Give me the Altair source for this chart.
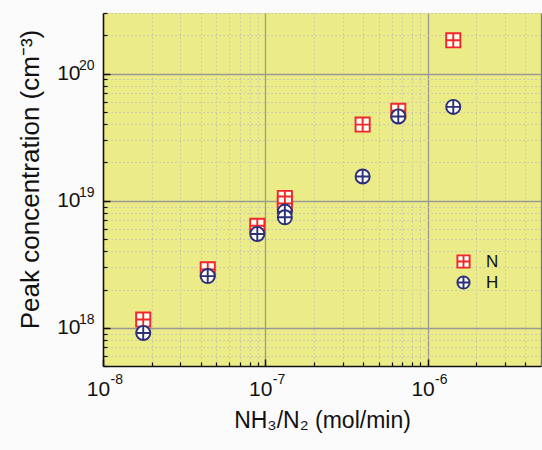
import altair as alt
import pandas as pd

# ---- data ----
x_vals = [1.77e-8, 4.42e-8, 8.93e-8, 1.32e-7, 1.32e-7, 3.98e-7, 6.6e-7, 1.44e-6]
y_N = [1.16e18, 2.88e18, 6.35e18, 1.05e19, 0.95e19, 3.97e19, 5.1e19, 1.83e20]
y_H = [9.1e17, 2.55e18, 5.47e18, 8.2e18, 7.4e18, 1.55e19, 4.6e19, 5.47e19]
series = ["N", "H"]

x_major = [1e-8, 1e-7, 1e-6]
x_minor = [m * d for d in [1e-8, 1e-7, 1e-6] for m in range(2, 10) if m * d <= 5e-6]
y_major = [1e18, 1e19, 1e20]
y_minor = [m * d for d in [1e17, 1e18, 1e19, 1e20] for m in range(2, 10) if 5e17 <= m * d <= 3e20]

rows = []
for xv, yv in zip(x_vals, y_N):
    rows.append({"x": xv, "y": yv, "s": "N"})
for xv, yv in zip(x_vals, y_H):
    rows.append({"x": xv, "y": yv, "s": "H"})
df = pd.DataFrame(rows)

FONT = "Liberation Sans"
INK = "#111111"
square_path = "M-1,-1H1V1H-1Z M0,-1V1 M-1,0H1"
circle_path = "M1,0A1,1,0,1,1,-1,0A1,1,0,1,1,1,0Z M0,-1V1 M-1,0H1"

xs = alt.Scale(type="log", domain=[1e-8, 5e-6], nice=False)
ys = alt.Scale(type="log", domain=[5e17, 3e20], nice=False)

x_exp = "'-' + format(-round(log(datum.value) / LN10), 'd')"
y_exp = "format(round(log(datum.value) / LN10), 'd')"


def axis_layer(xaxis, yaxis):
    return alt.Chart(df).mark_point(opacity=0).encode(
        x=alt.X("x:Q", scale=xs, axis=xaxis),
        y=alt.Y("y:Q", scale=ys, axis=yaxis),
    )


def grid_axis(orient, values, color, width, dash=None):
    kw = dict(orient=orient, values=values, labels=False, domain=False, ticks=False,
              grid=True, gridColor=color, gridWidth=width, title=None)
    if dash:
        kw["gridDash"] = dash
    return alt.Axis(**kw)


def tick_axis(orient, values, size, width):
    return alt.Axis(orient=orient, values=values, labels=False, domain=False, ticks=True,
                    tickSize=size, tickWidth=width, tickColor=INK, offset=-size,
                    grid=False, title=None)


minor_grid = axis_layer(grid_axis("bottom", x_minor, "#c4c4a6", 1, [1.5, 2.5]),
                        grid_axis("left", y_minor, "#c4c4a6", 1, [1.5, 2.5]))
major_grid = axis_layer(grid_axis("bottom", x_major, "#9a9a92", 1.3),
                        grid_axis("left", y_major, "#9a9a92", 1.3))
major_ticks = axis_layer(tick_axis("bottom", x_major, 7, 1.5), tick_axis("left", y_major, 7, 1.5))
minor_ticks = axis_layer(tick_axis("bottom", x_minor, 4, 1.2), tick_axis("left", y_minor, 4, 1.2))
right_border = axis_layer(
    alt.Axis(orient="top", labels=False, domain=False, ticks=False, grid=False, title=None),
    alt.Axis(orient="right", labels=False, domain=True, domainColor="#777", domainWidth=1.2,
             ticks=False, grid=False, title=None),
)
exponents = axis_layer(
    alt.Axis(orient="bottom", values=x_major, labelExpr=x_exp, labels=True, domain=False,
             ticks=False, tickSize=0, grid=False, title=None, labelFont=FONT, labelFontSize=14,
             labelColor=INK, labelAlign="left", labelBaseline="top", labelOffset=7,
             labelPadding=6),
    alt.Axis(orient="left", values=y_major, labelExpr=y_exp, labels=True, domain=False,
             ticks=False, tickSize=0, grid=False, title=None, labelFont=FONT, labelFontSize=14,
             labelColor=INK, labelAlign="right", labelBaseline="middle", labelOffset=-8,
             labelPadding=9),
)

points = alt.Chart(df).mark_point(filled=False, fill="#fffff4", strokeWidth=1.9, opacity=1).encode(
    x=alt.X("x:Q", scale=xs, axis=alt.Axis(
        orient="bottom", values=x_major, labelExpr="'10'", grid=False, ticks=False, tickSize=0,
        domain=True, domainColor=INK, domainWidth=1.5, labelFont=FONT, labelFontSize=21,
        labelColor=INK, labelAlign="center", labelBaseline="top", labelOffset=-5,
        labelPadding=12, title="NH\u2083/N\u2082 (mol/min)",
        titleFont=FONT, titleFontSize=23, titleFontWeight="normal", titleColor=INK,
        titlePadding=10)),
    y=alt.Y("y:Q", scale=ys, axis=alt.Axis(
        orient="left", values=y_major, labelExpr="'10'", grid=False, ticks=False, tickSize=0,
        domain=True, domainColor=INK, domainWidth=1.5, labelFont=FONT, labelFontSize=21,
        labelColor=INK, labelAlign="right", labelBaseline="middle", labelPadding=23,
        title="Peak concentration (cm\u207b\u00b3)",
        titleFont=FONT, titleFontSize=26, titleFontWeight="normal", titleColor=INK,
        titleX=-73, titleY=166, titleAngle=270, titleAlign="center", titleBaseline="middle")),
    stroke=alt.Stroke("s:N", scale=alt.Scale(domain=series, range=["#f0262a", "#2c2f7a"]),
                      legend=alt.Legend(title=None, orient="none", legendX=352, legendY=240,
                                        labelFont=FONT, labelFontSize=17, labelColor=INK,
                                        symbolSize=150, symbolStrokeWidth=1.9,
                                        symbolFillColor="#fffff4", rowPadding=0,
                                        labelOffset=14)),
    shape=alt.Shape("s:N", scale=alt.Scale(domain=series, range=[square_path, circle_path])),
)

chart = alt.layer(minor_grid, major_grid, major_ticks, minor_ticks, right_border,
                  exponents, points).resolve_axis(
    x="independent", y="independent"
).properties(
    width=438, height=353,
    padding={"left": 103, "top": 13, "right": 1, "bottom": 84},
    autosize=alt.AutoSizeParams(type="none"),
    background="#fbfbfb",
).configure_view(
    fill="#ebeb88", stroke=None
).configure_point(size=200)

chart.save("out.html", embed_options={"renderer": "svg", "actions": False})
